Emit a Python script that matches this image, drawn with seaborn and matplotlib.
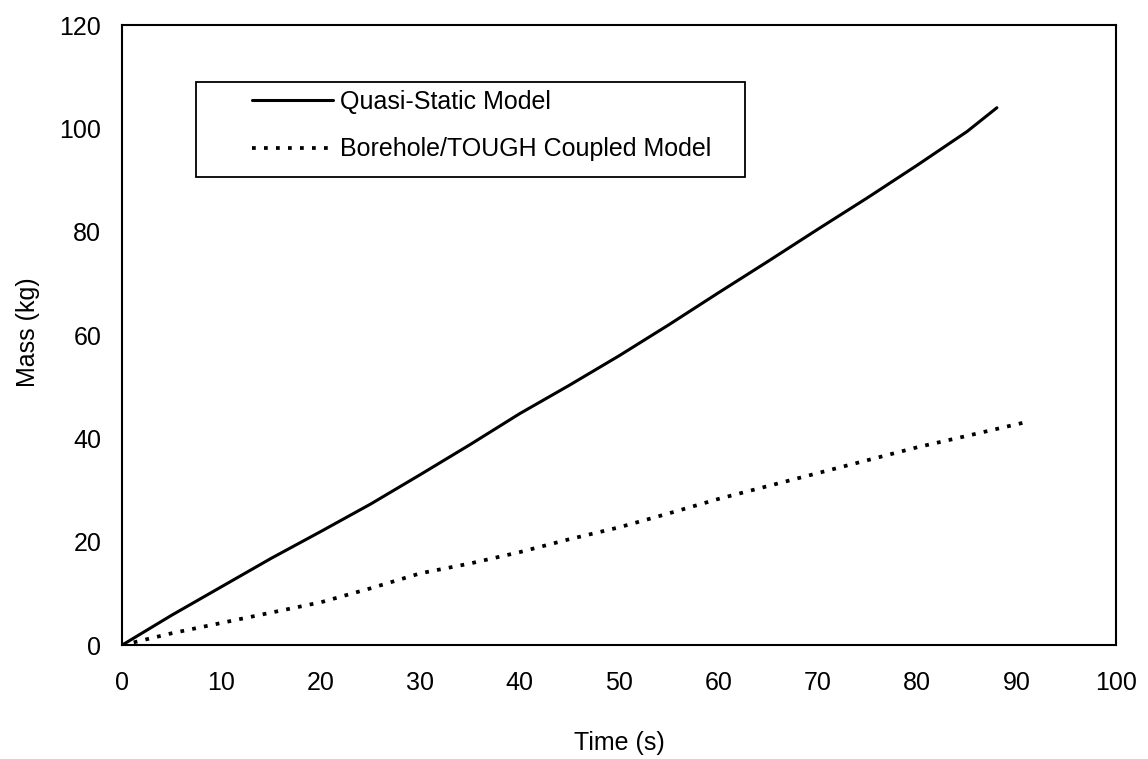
import numpy as np
import pandas as pd
import matplotlib
matplotlib.use('Agg')
import matplotlib.pyplot as plt
import seaborn as sns
from matplotlib.patches import Rectangle

# data
quasi_time = [0, 5, 10, 15, 20, 25, 30, 35, 40, 45, 50, 55, 60, 65, 70, 75, 80, 85, 88]
quasi_mass = [0, 5.8, 11.3, 16.8, 22, 27.3, 33, 38.8, 44.8, 50.3, 56, 62, 68.2, 74.3, 80.5, 86.6, 92.9, 99.4, 104]

bore_time = [0, 5, 10, 15, 20, 25, 30, 35, 40, 45, 50, 55, 60, 65, 70, 75, 80, 85, 91]
bore_mass = [0, 2.3, 4.3, 6.3, 8.3, 11, 13.9, 15.8, 18, 20.5, 22.8, 25.5, 28.3, 30.8, 33.3, 35.8, 38.3, 40.5, 43.2]

x_ticks = list(range(0, 101, 10))
y_ticks = list(range(0, 121, 20))

sns.set_style('white')
plt.rcParams['font.family'] = ['Liberation Sans', 'DejaVu Sans']
plt.rcParams['text.color'] = 'black'
plt.rcParams['axes.labelcolor'] = 'black'

fig = plt.figure(figsize=(11.48, 7.59), dpi=100)
ax = fig.add_axes([0.1063, 0.150, 0.866, 0.817])

quasi_df = pd.DataFrame({'t': quasi_time, 'm': quasi_mass})
bore_df = pd.DataFrame({'t': bore_time, 'm': bore_mass})

sns.lineplot(data=quasi_df, x='t', y='m', ax=ax, color='black', linewidth=2.2,
             label='Quasi-Static Model')
sns.lineplot(data=bore_df, x='t', y='m', ax=ax, color='black', linewidth=2.7,
             linestyle=(0, (1, 2.2)), label='Borehole/TOUGH Coupled Model')

ax.set_xlim(0, 100)
ax.set_ylim(0, 120)
ax.set_xticks(x_ticks)
ax.set_yticks(y_ticks)
ax.tick_params(direction='in', length=6, width=1.2, labelsize=18,
               colors='black')
ax.tick_params(axis='x', pad=18.5)
ax.tick_params(axis='y', pad=15)
for s in ax.spines.values():
    s.set_color('black')
    s.set_linewidth(1.5)

ax.set_xlabel('Time (s)', fontsize=18)
ax.set_ylabel('Mass (kg)', fontsize=18)
ax.xaxis.set_label_coords(0.5, -0.158, transform=ax.transAxes)
ax.yaxis.set_label_coords(-0.0946, 0.505, transform=ax.transAxes)
ax.xaxis.label.set_va('center')
ax.yaxis.label.set_va('center')

# legend with its own frame
leg = ax.legend(loc='upper left', bbox_to_anchor=(0.1308, 0.896), frameon=False,
                fontsize=18, handlelength=3.24, handletextpad=0.28,
                labelspacing=0.95, borderaxespad=0, borderpad=0)
ax.add_patch(Rectangle((0.0744, 0.755), 0.552, 0.153, transform=ax.transAxes,
                       fill=False, edgecolor='black', linewidth=1.3, zorder=5))

fig.savefig('out.png', dpi=100)
